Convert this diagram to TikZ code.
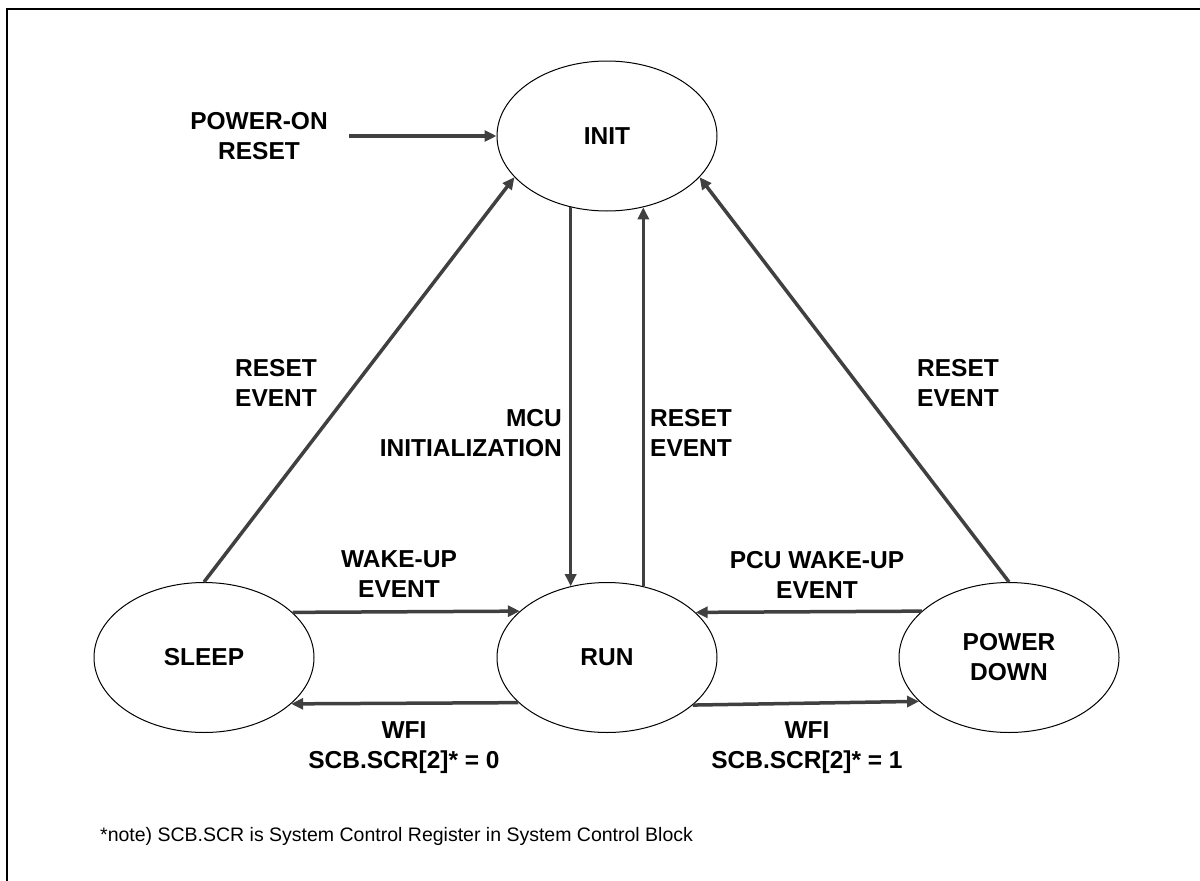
\documentclass[tikz,border=0pt]{standalone}
\usepackage{fontspec}
\setmainfont{Liberation Sans}
\usetikzlibrary{shapes.geometric,arrows.meta}
\definecolor{arrgray}{RGB}{64,64,64}
\tikzset{
  state/.style={ellipse,draw=black,line width=1pt,minimum width=220pt,minimum height=150pt,inner sep=0pt,
    align=center,font=\fontsize{24.5}{30}\selectfont\bfseries},
  lbl/.style={inner sep=0pt,font=\fontsize{24.5}{30}\selectfont\bfseries},
  arr/.style={draw=arrgray,line width=3.5pt,-{Triangle[length=12pt,width=11pt]},arrgray},
  notetext/.style={inner sep=0pt,anchor=west,font=\fontsize{19.5}{23}\selectfont}
}
\begin{document}
\begin{tikzpicture}[x=1pt,y=-1pt]
\useasboundingbox (0,0) rectangle (1200,881);
\draw[line width=2.5pt,black] (7,885) -- (7,9) -- (1205,9);

\node[state] (init) at (607,136) {INIT};
\node[state] (sleep) at (204,657.5) {SLEEP};
\node[state] (run) at (607,657.5) {RUN};
\node[state] (pd) at (1009,657.5) {POWER\\DOWN};

\node[lbl,align=center] (por) at (259,136) {POWER-ON\\RESET};
\node[lbl,align=center] (lreset) at (276,383) {RESET\\EVENT};
\node[lbl,align=right,anchor=east] (mcu) at (562,433) {MCU\\INITIALIZATION};
\node[lbl,align=left,anchor=west] (mreset) at (650,433) {RESET\\EVENT};
\node[lbl,align=center] (rreset) at (958,383) {RESET\\EVENT};
\node[lbl,align=center] (wake) at (399,574.5) {WAKE-UP\\EVENT};
\node[lbl,align=center] (pcu) at (817,574.5) {PCU WAKE-UP\\EVENT};
\node[lbl,align=center] (wfi0) at (404,747.5) {WFI\\SCB.SCR[2]* = 0};
\node[lbl,align=center] (wfi1) at (807,747.5) {WFI\\SCB.SCR[2]* = 1};

\node[notetext] (note) at (100,836) {*note) SCB.SCR is System Control Register in System Control Block};

\draw[arr] ([xshift=21pt]por.east) -- (init.west);
\draw[arr] (sleep.north) -- (init.204);
\draw[arr] (init.243) -- (run.117);
\draw[arr] (run.63) -- (init.297);
\draw[arr] (pd.north) -- (init.336);
\draw[arr] (sleep.27.1) -- (run.152.9);
\draw[arr] (pd.152.9) -- (run.27.1);
\draw[arr] (run.207.1) -- (sleep.332.9);
\draw[arr] (run.331.3) -- (pd.206.3);
\end{tikzpicture}
\end{document}
